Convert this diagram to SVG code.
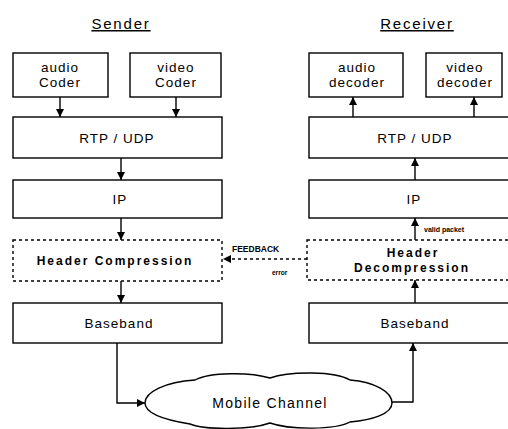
<svg xmlns="http://www.w3.org/2000/svg" width="508" height="429" viewBox="0 0 508 429">
<defs>
<marker id="ah" viewBox="0 0 8 8" refX="8" refY="4" markerWidth="8" markerHeight="8" markerUnits="userSpaceOnUse" orient="auto">
<path d="M0,0 L8,4 L0,8 Z" fill="#000"/>
</marker>
</defs>
<style>
.box{fill:#fff;stroke:#000;stroke-width:1.4}
.dbox{fill:#fff;stroke:#000;stroke-width:1.4;stroke-dasharray:3,3}
.t{font-family:"Liberation Sans",Arial,sans-serif;font-size:13.5px;text-anchor:middle;fill:#000;letter-spacing:1px}
.tb{font-family:"Liberation Sans",Arial,sans-serif;font-size:12px;font-weight:bold;text-anchor:middle;fill:#000;letter-spacing:2px}
.title{font-family:"Liberation Sans",Arial,sans-serif;font-size:15px;text-anchor:middle;fill:#000;text-decoration:underline;letter-spacing:1.8px}
.sm{font-family:"Liberation Sans",Arial,sans-serif;font-weight:bold;fill:#000}
.c{stroke:#000;stroke-width:1.4;fill:none;marker-end:url(#ah)}
.cd{stroke:#000;stroke-width:1.4;fill:none;stroke-dasharray:3,3;marker-end:url(#ah)}
</style>
<rect width="508" height="429" fill="#fff"/>
<text class="title" x="121" y="29">Sender</text>
<text class="title" x="417" y="29">Receiver</text>

<g id="audio-coder"><rect class="box" x="13" y="53" width="95" height="44"/><text class="t" x="60" y="72">audio</text><text class="t" x="60" y="87">Coder</text></g>
<g id="video-coder"><rect class="box" x="130" y="53" width="91" height="44"/><text class="t" x="176" y="72">video</text><text class="t" x="176" y="87">Coder</text></g>
<g id="s-rtp"><rect class="box" x="13" y="117" width="209" height="41"/><text class="t" x="117" y="143">RTP / UDP</text></g>
<g id="s-ip"><rect class="box" x="13" y="180" width="209" height="38"/><text class="t" x="120" y="204">IP</text></g>
<g id="s-hc"><rect class="dbox" x="13" y="240" width="209" height="41"/><text class="tb" x="115" y="265">Header Compression</text></g>
<g id="s-bb"><rect class="box" x="13" y="303" width="209" height="40"/><text class="t" x="119" y="328">Baseband</text></g>

<g id="audio-decoder"><rect class="box" x="309" y="53" width="94" height="44"/><text class="t" x="357" y="72">audio</text><text class="t" x="357" y="87">decoder</text></g>
<g id="video-decoder"><rect class="box" x="426" y="53" width="76" height="44"/><text class="t" x="465" y="72">video</text><text class="t" x="465" y="87">decoder</text></g>
<g id="r-rtp"><rect class="box" x="309" y="117" width="205" height="41"/><text class="t" x="415" y="143">RTP / UDP</text></g>
<g id="r-ip"><rect class="box" x="309" y="180" width="205" height="38"/><text class="t" x="414" y="204">IP</text></g>
<g id="r-hd"><rect class="dbox" x="307" y="240" width="207" height="40"/><text class="tb" x="413" y="257">Header</text><text class="tb" x="412" y="272">Decompression</text></g>
<g id="r-bb"><rect class="box" x="309" y="303" width="205" height="40"/><text class="t" x="415" y="328">Baseband</text></g>

<g id="cloud"><path class="box" d="M145,403 C145,392 165,382 195,380 C210,372 250,372 270,378 C290,371 335,371 350,380 C375,382 392,392 392,403 C392,414 372,420 350,422 C335,430 290,430 270,423 C250,430 205,430 190,424 C165,420 145,414 145,403 Z"/><text class="t" x="270" y="408" style="font-size:14px;letter-spacing:1.3px">Mobile Channel</text></g>

<g id="connectors">
<path class="c" d="M60,97 V117"/>
<path class="c" d="M176,97 V117"/>
<path class="c" d="M121,158 V180"/>
<path class="c" d="M121,218 V240"/>
<path class="c" d="M121,281 V303"/>
<path class="c" d="M353,117 V97"/>
<path class="c" d="M474,117 V97"/>
<path class="c" d="M415,180 V158"/>
<path class="c" d="M415,240 V218"/>
<path class="c" d="M415,303 V280"/>
<path class="cd" d="M307,259 H223"/>
<path class="c" d="M117,343 V403 H145"/>
<path class="c" d="M392,402 H413 V343"/>
<text class="sm" x="424" y="232" font-size="7">valid packet</text>
<text class="sm" x="232" y="252" font-size="8.5">FEEDBACK</text>
<text class="sm" x="272" y="275" font-size="6.5">error</text>
</g>
</svg>
